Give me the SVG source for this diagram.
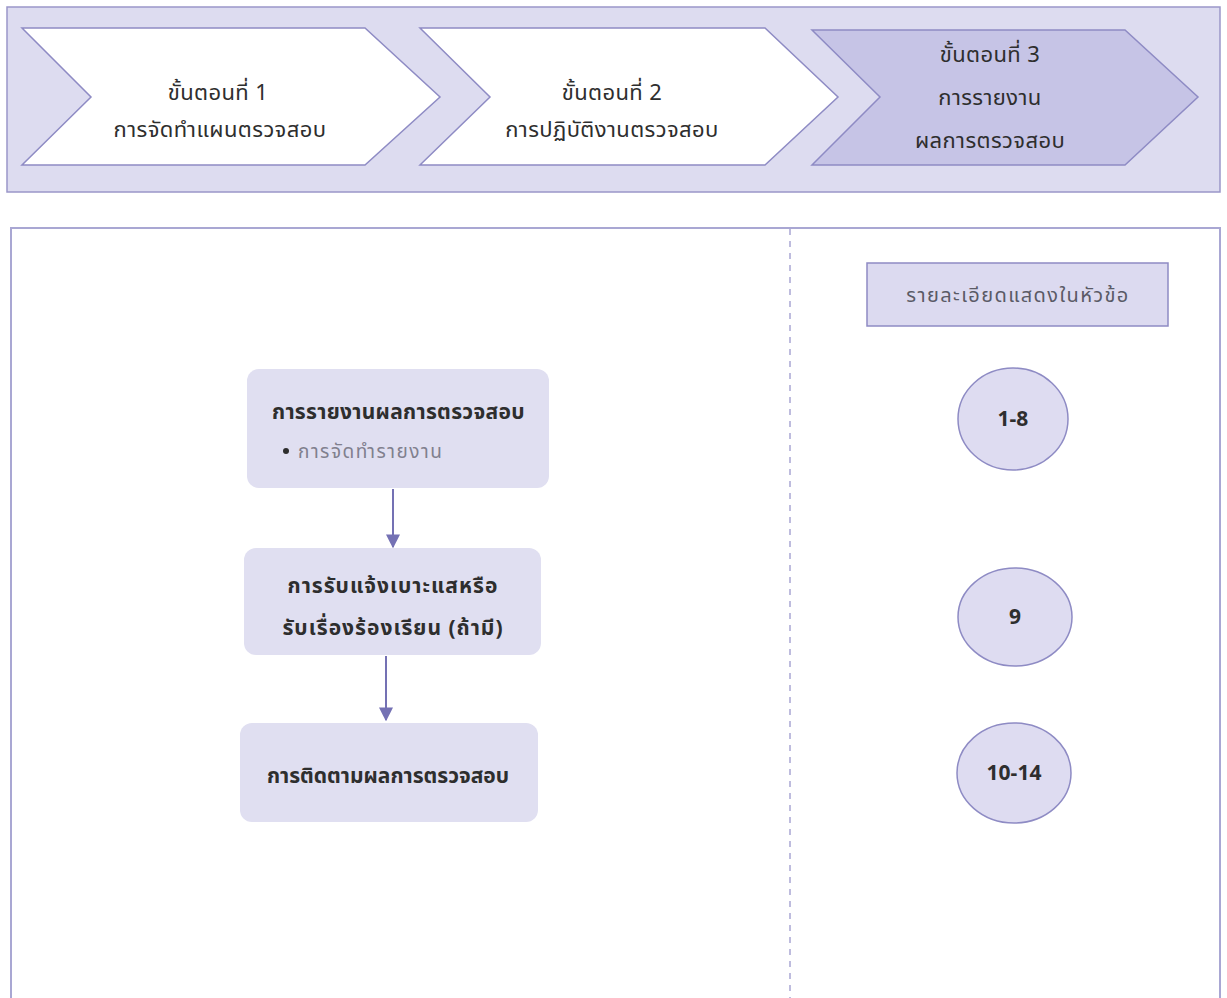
<svg xmlns="http://www.w3.org/2000/svg" width="1227" height="998" viewBox="0 0 1227 998">
  <defs>
    <style>
      .t { font-family: "Noto Sans Thai", "Noto Sans", "Liberation Sans", sans-serif; fill: #2e2e2e; }
      .head { font-size: 22px; letter-spacing: 0.4px; text-anchor: middle; }
      .bold { font-weight: bold; font-size: 21px; }
      .mid { text-anchor: middle; }
      .node { fill: #e0dff1; }
      .chev { fill: #ffffff; stroke: #8e8bc4; stroke-width: 1.5; }
      .chev.on { fill: #c6c4e6; }
      .num { fill: #dedcf1; stroke: #8e8bc4; stroke-width: 1.5; }
      .edge { stroke: #7471b4; stroke-width: 2; fill: none; }
    </style>
    <marker id="arrow" viewBox="0 0 10 10" refX="9" refY="5" markerWidth="7" markerHeight="7" orient="auto" markerUnits="strokeWidth">
      <path d="M0,0 L10,5 L0,10 z" fill="#7471b4"/>
    </marker>
  </defs>

  <rect width="1227" height="998" fill="#ffffff"/>

  <!-- step banner -->
  <g id="banner">
    <rect x="7" y="7" width="1213" height="185" fill="#dddcf0" stroke="#9a97c9" stroke-width="1.5"/>
  </g>
  <g id="step1">
    <polygon class="chev" points="22,28 365,28 440,97 365,165 22,165 91,97"/>
    <text class="t head" x="218" y="100">ขั้นตอนที่ 1</text>
    <text class="t head" x="220" y="137">การจัดทำแผนตรวจสอบ</text>
  </g>
  <g id="step2">
    <polygon class="chev" points="420,28 765,28 838,97 765,165 420,165 490,97"/>
    <text class="t head" x="612" y="100">ขั้นตอนที่ 2</text>
    <text class="t head" x="612" y="137">การปฏิบัติงานตรวจสอบ</text>
  </g>
  <g id="step3">
    <polygon class="chev on" points="812,30 1125,30 1198,97 1125,165 812,165 880,97"/>
    <text class="t head" x="990" y="62">ขั้นตอนที่ 3</text>
    <text class="t head" x="990" y="105">การรายงาน</text>
    <text class="t head" x="990" y="148">ผลการตรวจสอบ</text>
  </g>

  <!-- lower panel with divider -->
  <g id="panel">
    <path d="M11,1000 V228 H1220 V1000" fill="none" stroke="#a9a7d3" stroke-width="2"/>
    <line x1="790" y1="229" x2="790" y2="998" stroke="#a9a7d3" stroke-width="1.5" stroke-dasharray="6,6"/>
  </g>

  <!-- process flow -->
  <g id="report">
    <rect class="node" x="247" y="369" width="302" height="119" rx="12"/>
    <text class="t bold" x="272" y="419" letter-spacing="0.3">การรายงานผลการตรวจสอบ</text>
    <circle cx="286" cy="451" r="3" fill="#2e2e2e"/>
    <text class="t" x="298" y="458" font-size="19" letter-spacing="1.5" style="fill:#80808e">การจัดทำรายงาน</text>
  </g>
  <g id="complaint">
    <rect class="node" x="244" y="548" width="297" height="107" rx="12"/>
    <text class="t bold mid" x="393" y="593" letter-spacing="1">การรับแจ้งเบาะแสหรือ</text>
    <text class="t bold mid" x="393" y="635" letter-spacing="1">รับเรื่องร้องเรียน (ถ้ามี)</text>
  </g>
  <g id="followup">
    <rect class="node" x="240" y="723" width="298" height="99" rx="12"/>
    <text class="t bold mid" x="388" y="783">การติดตามผลการตรวจสอบ</text>
  </g>

  <g id="connectors">
    <line class="edge" x1="393" y1="489" x2="393" y2="547" marker-end="url(#arrow)"/>
    <line class="edge" x1="386" y1="656" x2="386" y2="720" marker-end="url(#arrow)"/>
  </g>

  <!-- topic references -->
  <g id="topics-label">
    <rect x="867" y="263" width="301" height="63" fill="#dcdaf0" stroke="#8e8bc4" stroke-width="1.5"/>
    <text class="t mid" x="1018" y="302" font-size="20" letter-spacing="1.4" style="fill:#5a5a66">รายละเอียดแสดงในหัวข้อ</text>
  </g>
  <g id="topic-1-8">
    <ellipse class="num" cx="1013" cy="419" rx="55" ry="51"/>
    <text class="t bold mid" x="1013" y="426">1-8</text>
  </g>
  <g id="topic-9">
    <ellipse class="num" cx="1015" cy="617" rx="57" ry="49"/>
    <text class="t bold mid" x="1015" y="624">9</text>
  </g>
  <g id="topic-10-14">
    <ellipse class="num" cx="1014" cy="773" rx="57" ry="50"/>
    <text class="t bold mid" x="1014" y="780">10-14</text>
  </g>
</svg>
